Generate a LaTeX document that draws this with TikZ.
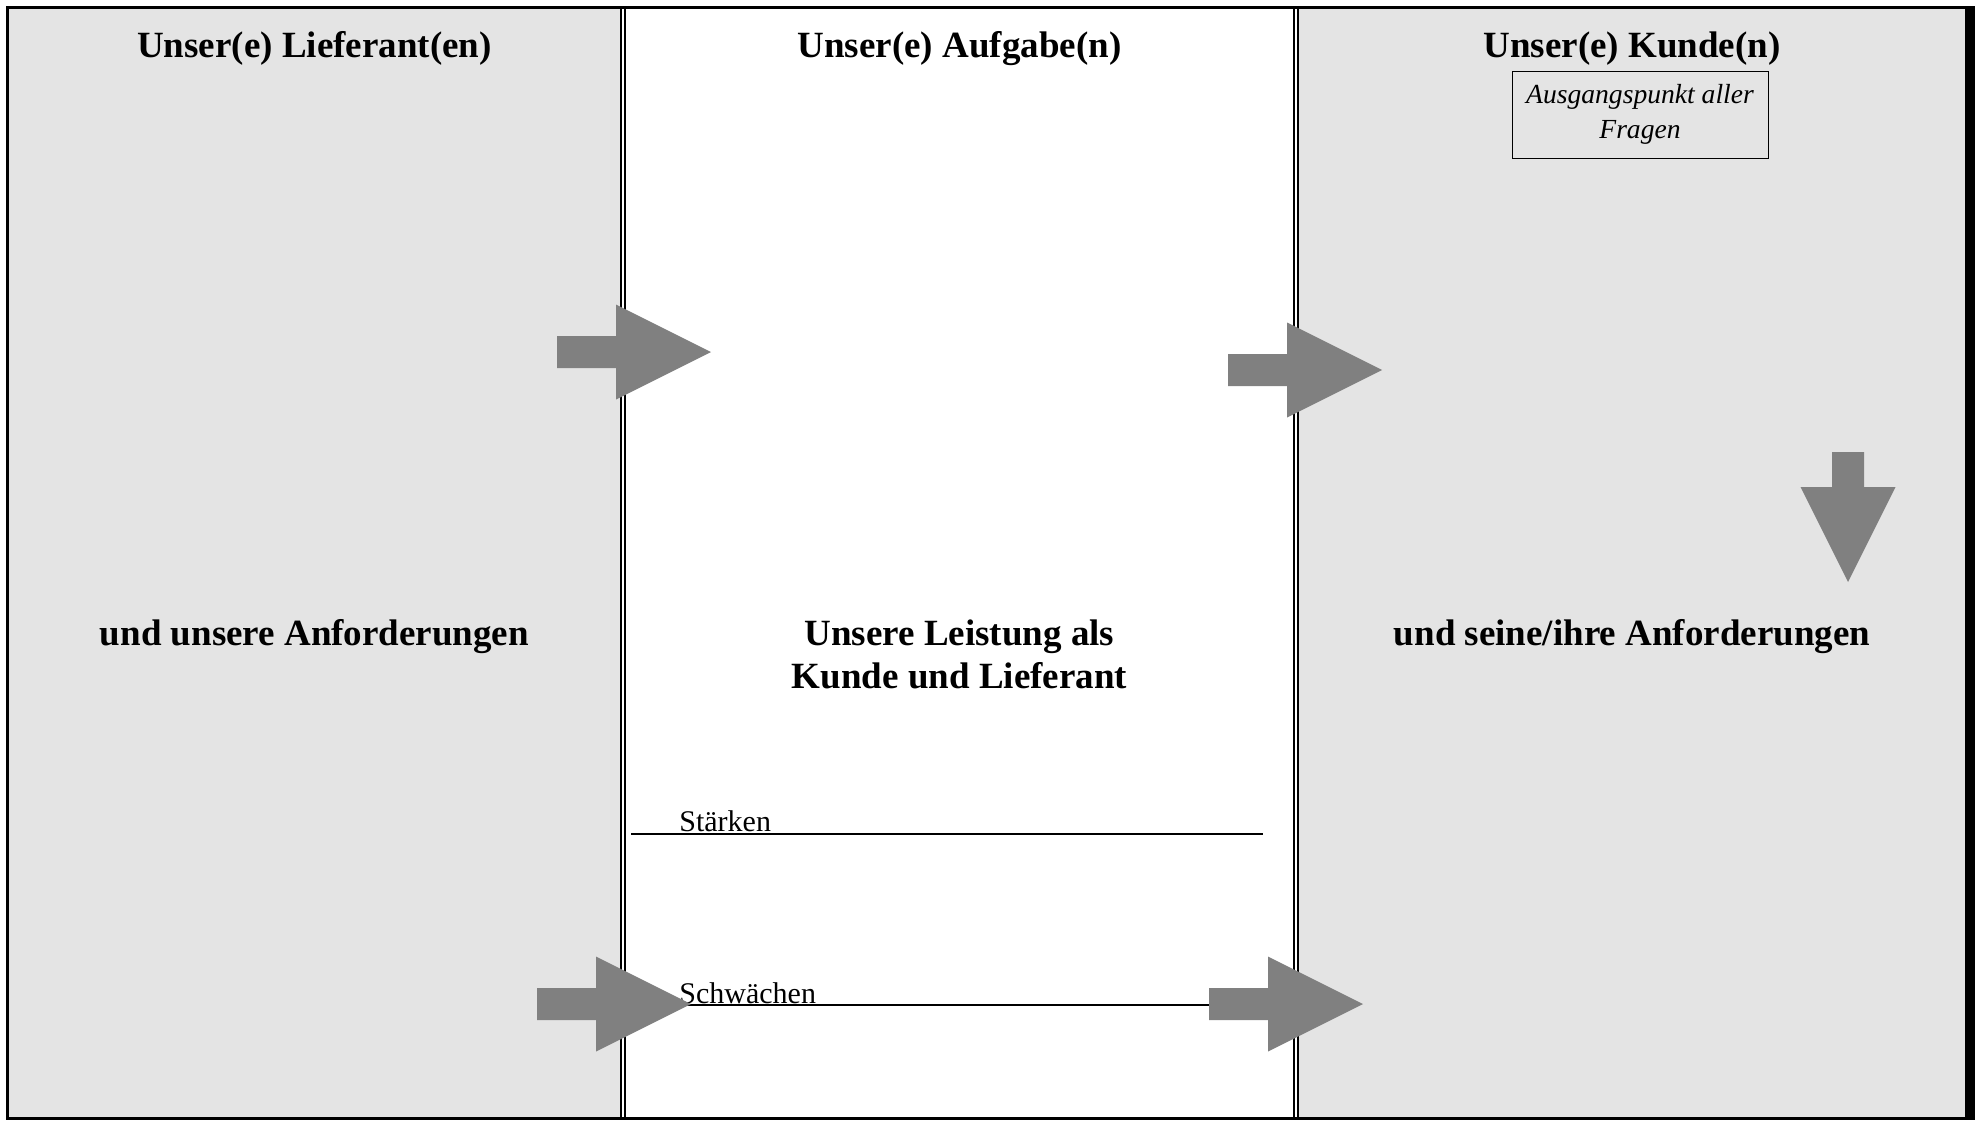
\documentclass[tikz,border=0pt]{standalone}
\usepackage{fontspec}
\setmainfont{Liberation Serif}
\usetikzlibrary{positioning}
\definecolor{colbg}{HTML}{E4E4E4}
\definecolor{colarr}{HTML}{808080}
\tikzset{
  head/.style={font=\fontsize{18.5}{22}\selectfont\bfseries, anchor=base, inner sep=0pt},
  small/.style={font=\fontsize{15}{18}\selectfont, anchor=base west, inner sep=0pt},
  divider/.style={line width=1.1pt, double=white, double distance=0.75pt},
  rule/.style={line width=1pt},
  pics/blockarrow/.style={code={
    \fill[colarr] (-#1,-16) -- (0,-16) -- (0,-47.5) -- (95,0) -- (0,47.5) -- (0,16) -- (-#1,16) -- cycle;}}
}
\begin{document}
\begin{tikzpicture}[x=0.5pt, y=-0.5pt]
\useasboundingbox (0,0) rectangle (1975,1120);
% frame and columns
\fill[black] (6,6) rectangle (1975,1120);
\fill[colbg] (9,9) rectangle (623,1117);
\fill[white] (623,9) rectangle (1296,1117);
\fill[colbg] (1296,9) rectangle (1965,1117);
\draw[divider] (623,9) -- (623,1117);
\draw[divider] (1296,9) -- (1296,1117);
% headings
\node[head] (lief) at (314.5,57) {Unser(e) Lieferant(en)};
\node[head] (aufg) at (959.5,57) {Unser(e) Aufgabe(n)};
\node[head] (kund) at (1632,57) {Unser(e) Kunde(n)};
\node[draw, line width=0.5pt, inner sep=0pt, minimum width=128pt, minimum height=43.5pt,
      align=center, font=\fontsize{13.8}{17.5}\selectfont\itshape] (frage) at (1640,114.5)
      {Ausgangspunkt aller\\Fragen};
% middle texts
\node[head] (anfl) at (314.5,645) {und unsere Anforderungen};
\node[head] (leist) at (959.5,645) {Unsere Leistung als};
\node[head] (leist2) at (959.5,688) {Kunde und Lieferant};
\node[head] (anfk) at (1632,645) {und seine/ihre Anforderungen};
% Staerken / Schwaechen
\coordinate (s1) at (631,834);
\coordinate (s2) at (1263,834);
\coordinate (w1) at (631,1005);
\coordinate (w2) at (1263,1005);
\draw[rule] (s1) -- (s2);
\draw[rule] (w1) -- (w2);
\node[small] (staerk) at (679,831) {Stärken};
\node[small] (schwach) at (679,1003) {Schwächen};
% arrows
\pic at (616,352) {blockarrow=59};
\pic at (1287,370) {blockarrow=59};
\pic at (596,1004) {blockarrow=59};
\pic at (1268,1004) {blockarrow=59};
\pic[rotate=-90] at (1848,487) {blockarrow=35};
\end{tikzpicture}
\end{document}
